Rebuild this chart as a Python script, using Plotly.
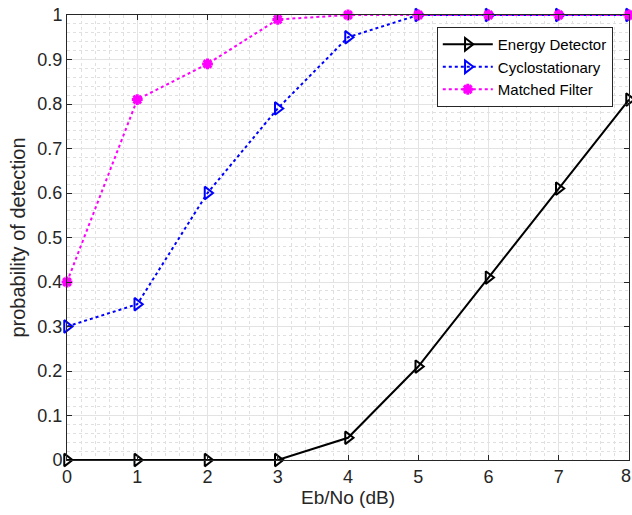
import plotly.graph_objects as go

ebno = [0, 1, 2, 3, 4, 5, 6, 7, 8]
energy = [0, 0, 0, 0, 0.05, 0.21, 0.41, 0.61, 0.81]
cyclo = [0.30, 0.35, 0.60, 0.79, 0.95, 1.0, 1.0, 1.0, 1.0]
matched = [0.40, 0.81, 0.89, 0.99, 1.0, 1.0, 1.0, 1.0, 1.0]
yticks = [0, 0.1, 0.2, 0.3, 0.4, 0.5, 0.6, 0.7, 0.8, 0.9, 1]

fig = go.Figure()
fig.add_trace(go.Scatter(x=ebno, y=energy, name="Energy Detector", mode="lines+markers",
                         line=dict(color="black", width=2),
                         marker=dict(symbol="triangle-right-open", size=11, color="black", line=dict(width=2))))
fig.add_trace(go.Scatter(x=ebno, y=cyclo, name="Cyclostationary", mode="lines+markers",
                         line=dict(color="#0000ff", width=2, dash="dot"),
                         marker=dict(symbol="triangle-right-open", size=11, color="#0000ff", line=dict(width=2))))
fig.add_trace(go.Scatter(x=ebno, y=matched, name="Matched Filter", mode="lines+markers",
                         line=dict(color="#ff00ff", width=2, dash="dot"),
                         marker=dict(symbol="asterisk-open", size=9, color="#ff00ff", line=dict(width=3, color="#ff00ff"))))

font = "Liberation Sans, Arial, sans-serif"
fig.update_layout(
    width=632, height=515,
    margin=dict(l=67, r=3, t=15, b=55),
    paper_bgcolor="white", plot_bgcolor="white",
    font=dict(family=font, size=18, color="#262626"),
    showlegend=True,
    legend=dict(x=0.658, y=0.973, xanchor="left", yanchor="top",
                bgcolor="white", bordercolor="#262626", borderwidth=1,
                font=dict(size=15, color="black"), tracegroupgap=0,
                itemwidth=50),
)
fig.add_annotation(x=ebno[-1], xref="x", y=0, yref="paper", text=str(ebno[-1]),
                   showarrow=False, yanchor="top", yshift=-4, xshift=-3,
                   font=dict(family=font, size=18, color="#262626"))
fig.update_xaxes(range=[0, 8], tickvals=ebno[:-1], ticks="inside", ticklen=5, tickcolor="#262626",
                 showline=True, linecolor="#262626", linewidth=1, mirror="ticks",
                 showgrid=True, gridcolor="#e3e3e3", gridwidth=1, zeroline=False,
                 minor=dict(dtick=0.2, showgrid=True, gridcolor="#e0e0e0", griddash="dot", gridwidth=1),
                 title=dict(text="Eb/No (dB)", standoff=4, font=dict(size=19)))
fig.update_yaxes(range=[0, 1], tickvals=yticks, ticktext=[f"{v:g}" for v in yticks],
                 ticks="inside", ticklen=5, tickcolor="#262626",
                 showline=True, linecolor="#262626", linewidth=1, mirror="ticks",
                 showgrid=True, gridcolor="#e3e3e3", gridwidth=1, zeroline=False,
                 minor=dict(dtick=0.02, showgrid=True, gridcolor="#e0e0e0", griddash="dot", gridwidth=1),
                 title=dict(text="probability of detection", standoff=6, font=dict(size=20)))
fig.update_traces(cliponaxis=False)
fig.write_html("out.html")
